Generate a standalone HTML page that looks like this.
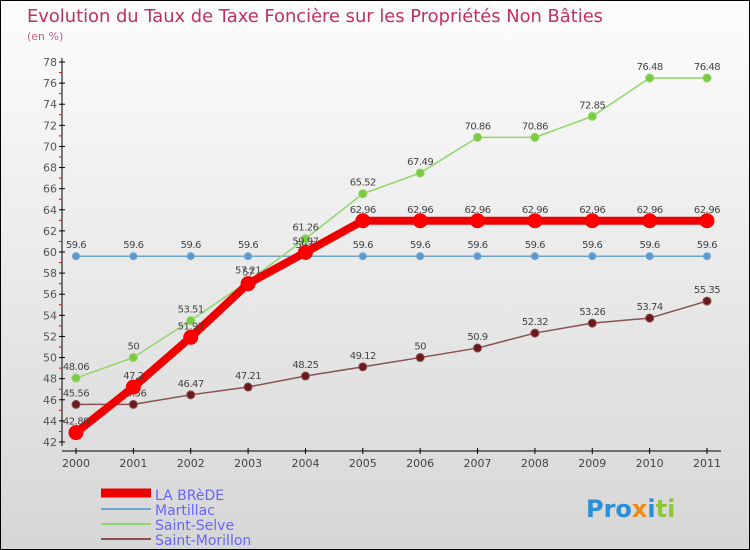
<!DOCTYPE html>
<html><head><meta charset="utf-8"><style>
body{margin:0}
#c{width:750px;height:550px;position:relative;box-sizing:border-box;border:1px solid #000;background:linear-gradient(#fdfdfd,#d6d6d6);font-family:"DejaVu Sans","Liberation Sans",sans-serif;overflow:hidden}
</style></head><body>
<div id="c">
<svg id="s" width="750" height="550" style="position:absolute;left:0;top:0">
<text x="26" y="21" font-size="18" fill="#c0305e" textLength="576" lengthAdjust="spacingAndGlyphs">Evolution du Taux de Taxe Foncière sur les Propriétés Non Bâties</text>
<text x="26" y="39" font-size="11" fill="#c0608a">(en %)</text>
<g id="g"></g>
<g>
<line x1="100" y1="492" x2="150" y2="492" stroke="#e00" stroke-width="9"/>
<text x="154" y="499" font-size="14" fill="#6666ff">LA BRèDE</text>
<line x1="100" y1="508" x2="150" y2="508" stroke="#6fa5d0" stroke-width="2"/>
<text x="154" y="514" font-size="14" fill="#6666ff">Martillac</text>
<line x1="100" y1="523" x2="150" y2="523" stroke="#8fd66a" stroke-width="2"/>
<text x="154" y="529" font-size="14" fill="#6666ff">Saint-Selve</text>
<line x1="100" y1="538" x2="150" y2="538" stroke="#8a5050" stroke-width="2"/>
<text x="154" y="544" font-size="14" fill="#6666ff">Saint-Morillon</text>
</g>
<text x="585" y="516" font-size="24" font-weight="bold"><tspan fill="#2a8fd8">Pro</tspan><tspan fill="#f08a10">x</tspan><tspan fill="#2a8fd8">i</tspan><tspan fill="#8cc83a">ti</tspan></text>
</svg>
</div>
<script>
const years=[2000,2001,2002,2003,2004,2005,2006,2007,2008,2009,2010,2011];
const yTicks=[42,44,46,48,50,52,54,56,58,60,62,64,66,68,70,72,74,76,78];
const laBrede=[42.89,47.2,51.92,57.0,59.97,62.96,62.96,62.96,62.96,62.96,62.96,62.96];
const martillac=[59.6,59.6,59.6,59.6,59.6,59.6,59.6,59.6,59.6,59.6,59.6,59.6];
const saintSelve=[48.06,50,53.51,57.21,61.26,65.52,67.49,70.86,70.86,72.85,76.48,76.48];
const saintMorillon=[45.56,45.56,46.47,47.21,48.25,49.12,50,50.9,52.32,53.26,53.74,55.35];
const NS="http://www.w3.org/2000/svg",g=document.getElementById('g');
const X=i=>75+i*(706-75)/(years.length-1);
const Y=v=>441-(v-42)*(380/36);
function mk(t,a){const e=document.createElementNS(NS,t);for(const k in a)e.setAttribute(k,a[k]);g.appendChild(e);return e;}
let e=mk('line',{x1:61,y1:57,x2:61,y2:445,stroke:'#000'});

e=mk('line',{x1:61,y1:450,x2:720,y2:450,stroke:'#000'});

yTicks.forEach((v,i)=>{
 const y=Y(v);
 let t=mk('line',{x1:58,y1:y,x2:64,y2:y,stroke:'#000'});
 
 if(i<yTicks.length-1){let r=mk('line',{x1:58,y1:Y(v+1),x2:61,y2:Y(v+1),stroke:'#e00'});
 }
 let l=mk('text',{x:56,y:y+4,'font-size':11,fill:'#555','text-anchor':'end'});l.textContent=v;
 
});
years.forEach((yr,i)=>{
 let t=mk('line',{x1:X(i),y1:447,x2:X(i),y2:453,stroke:'#000'});
 
 let l=mk('text',{x:X(i),y:466,'font-size':11,fill:'#444','text-anchor':'middle'});l.textContent=yr;
 
});
function series(d,name,col,w,r,dot){
 const p=d.map((v,i)=>X(i)+','+Y(v)).join(' ');
 let pl=mk('polyline',{points:p,fill:'none',stroke:col,'stroke-width':w,'stroke-linejoin':'round'});
 
 d.forEach((v,i)=>{
  let c=mk('circle',{cx:X(i),cy:Y(v),r:r,fill:dot,stroke:col,'stroke-width':1});
  
  let l=mk('text',{x:X(i),y:Y(v)-8,'font-size':10,fill:'#444','text-anchor':'middle','letter-spacing':'-0.5'});
  l.textContent=v;
  
 });
}
series(martillac,'martillac','#6fa5d0',1.5,3.5,'#5a9ad0');
series(saintMorillon,'saint-morillon','#8a5050',1.5,4,'#6a1a1a');
series(saintSelve,'saint-selve','#8fd66a',1.5,4,'#7acc40');
series(laBrede,'la-brede','#e00',8,7,'#f00');
</script>
</body></html>
